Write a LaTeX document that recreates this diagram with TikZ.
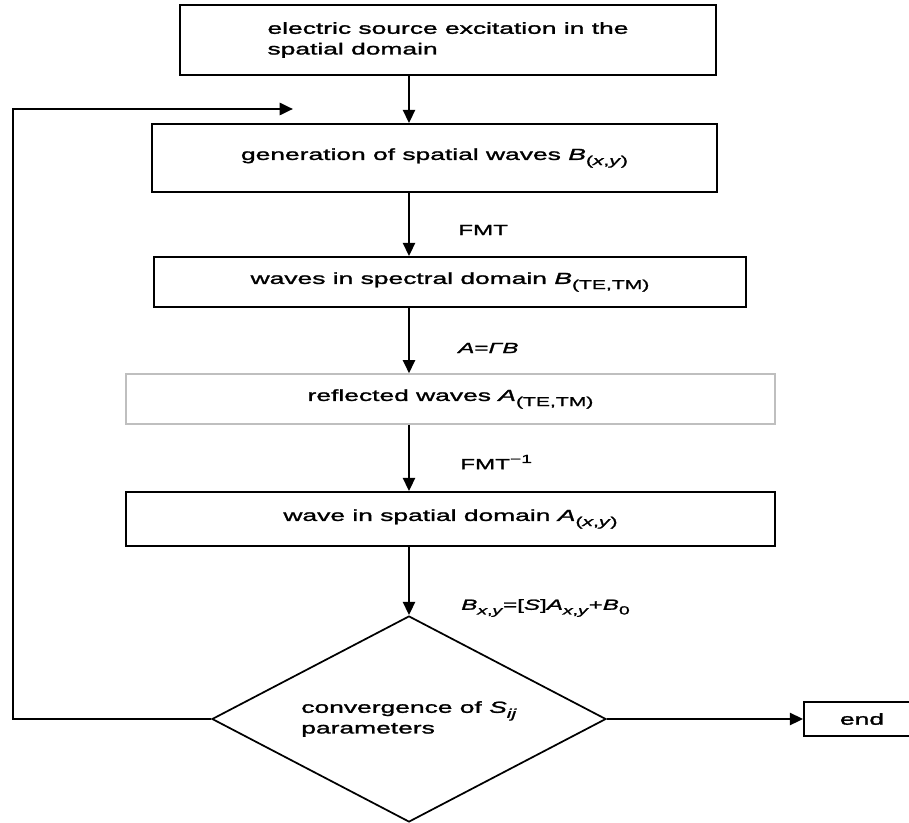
\documentclass[tikz,border=0pt]{standalone}
\usepackage{fontspec}
\setmainfont{Liberation Sans}[FakeStretch=1.65,FakeBold=1.6]
\usetikzlibrary{arrows.meta,shapes.geometric}

\newcommand\pxu{0.75pt}
\newcommand\lowidx[1]{\raisebox{-0.6ex}{\scalebox{0.8}{#1}}}
\newcommand\highidx[1]{\raisebox{0.8ex}{\scalebox{0.8}{#1}}}

\begin{document}
\begin{tikzpicture}[x=0.75pt,y=-0.75pt,>={Triangle[length=10pt,width=9pt]},
  box/.style={draw,line width=1.3pt,inner sep=0pt,font=\fontsize{12}{15.5}\selectfont},
  flow/.style={->,line width=2pt},
  lbl/.style={anchor=west,inner sep=0pt,font=\fontsize{11}{13}\selectfont}]
  \useasboundingbox (0,0) rectangle (909,823);

  \node[box,minimum width=536*\pxu,minimum height=70*\pxu,align=left] (src) at (448,40)
    {electric source excitation in the\\spatial domain};
  \node[box,minimum width=565*\pxu,minimum height=68*\pxu] (gen) at (434.5,158)
    {generation of spatial waves \textit{B}\lowidx{(\textit{x},\textit{y})}};
  \node[box,minimum width=592*\pxu,minimum height=50*\pxu] (spec) at (450,282)
    {waves in spectral domain \textit{B}\lowidx{(TE,TM)}};
  \node[box,draw=gray!50,line width=1pt,minimum width=649*\pxu,minimum height=50*\pxu] (refl) at (450.5,399)
    {reflected waves \textit{A}\lowidx{(TE,TM)}};
  \node[box,minimum width=649*\pxu,minimum height=54*\pxu] (spat) at (450.5,519)
    {wave in spatial domain \textit{A}\lowidx{(\textit{x},\textit{y})}};
  \node[box,diamond,aspect=1.9,minimum width=394*\pxu,minimum height=206*\pxu,align=left] (conv) at (409,719)
    {convergence of \textit{S}\lowidx{\textit{ij}}\\parameters};
  \node[box,minimum width=116*\pxu,minimum height=34*\pxu] (fin) at (862,719) {end};

  \node[lbl] (fmt) at (458,230) {FMT};
  \node[lbl] (refrule) at (458,348) {\textit{A}=\textit{ΓB}};
  \node[lbl] (ifmt) at (460,462) {FMT\highidx{−1}};
  \node[lbl] (update) at (461,608)
    {\textit{B}\lowidx{\textit{x},\textit{y}}=[\textit{S}]\textit{A}\lowidx{\textit{x},\textit{y}}+\textit{B}\lowidx{0}};

  \coordinate (spine) at (409,0);
  \coordinate (rail) at (13,109);
  \coordinate (back) at (293,109);

  \draw[flow] (src.south -| spine) -- (gen.north -| spine);
  \draw[flow] (gen.south -| spine) -- (spec.north -| spine);
  \draw[flow] (spec.south -| spine) -- (refl.north -| spine);
  \draw[flow] (refl.south -| spine) -- (spat.north -| spine);
  \draw[flow] (spat.south -| spine) -- (conv.north);
  \draw[flow] (conv.east) -- (fin.west);
  \draw[flow] (conv.west) -| (rail) -- (back);
\end{tikzpicture}
\end{document}
